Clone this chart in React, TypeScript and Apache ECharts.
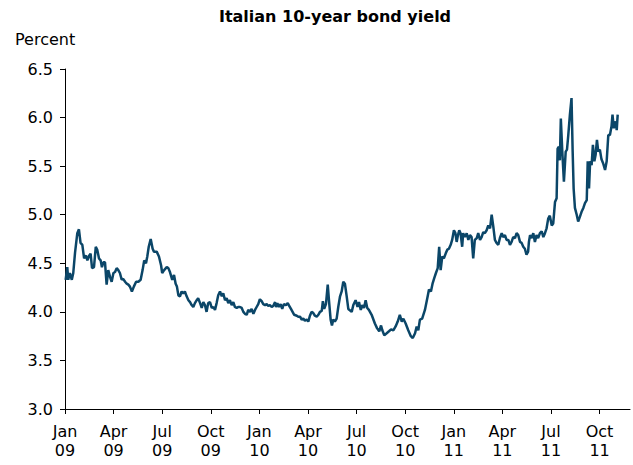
import React, { useEffect, useRef } from "react";
import * as echarts from "echarts";

// x value = months since 1 Jan 2009, y value = yield in percent
const yields2009: [number, number][] = [
  [0.04, 4.33], [0.14, 4.46], [0.2, 4.33], [0.3, 4.4], [0.42, 4.33], [0.51, 4.4], [0.62, 4.61], [0.76, 4.81],
  [0.86, 4.85], [0.96, 4.71], [1.07, 4.69], [1.18, 4.55], [1.3, 4.58], [1.38, 4.53], [1.5, 4.58], [1.58, 4.6],
  [1.67, 4.45], [1.79, 4.46], [1.9, 4.67], [1.99, 4.64], [2.1, 4.55], [2.2, 4.53], [2.28, 4.46], [2.37, 4.51],
  [2.47, 4.51], [2.57, 4.28], [2.67, 4.43], [2.78, 4.36], [2.88, 4.31], [2.99, 4.4], [3.09, 4.41], [3.19, 4.45],
  [3.29, 4.43], [3.39, 4.4], [3.5, 4.33], [3.59, 4.34], [3.71, 4.31], [3.81, 4.29], [3.91, 4.28], [4.01, 4.26],
  [4.13, 4.21], [4.25, 4.26], [4.39, 4.31], [4.53, 4.31], [4.67, 4.33], [4.79, 4.43], [4.89, 4.53], [5.0, 4.5],
  [5.08, 4.57], [5.17, 4.67], [5.29, 4.75], [5.41, 4.65], [5.49, 4.62], [5.66, 4.62],
  [5.8, 4.57], [5.93, 4.48], [6.0, 4.4], [6.12, 4.43], [6.28, 4.46], [6.38, 4.45], [6.48, 4.41], [6.62, 4.33],
  [6.73, 4.38], [6.83, 4.29], [6.91, 4.26], [7.0, 4.17], [7.1, 4.16], [7.2, 4.21], [7.3, 4.19], [7.4, 4.21],
  [7.51, 4.16], [7.62, 4.12], [7.72, 4.1], [7.82, 4.07], [7.92, 4.05], [8.02, 4.09], [8.13, 4.12], [8.22, 4.14],
  [8.34, 4.09], [8.44, 4.04], [8.54, 4.1], [8.64, 4.07], [8.74, 4.0], [8.84, 4.09], [8.95, 4.1], [9.06, 4.04],
  [9.16, 4.05], [9.26, 4.02], [9.36, 4.09], [9.46, 4.17], [9.57, 4.21], [9.68, 4.16], [9.77, 4.19], [9.88, 4.12],
  [9.98, 4.14], [10.08, 4.09], [10.18, 4.12], [10.29, 4.07], [10.39, 4.1], [10.49, 4.05], [10.6, 4.04], [10.69, 4.05],
  [10.8, 4.05], [10.91, 4.04], [11.01, 4.0], [11.11, 3.98], [11.22, 3.97], [11.31, 4.02], [11.42, 4.0], [11.52, 4.03],
  [11.63, 3.98], [11.73, 4.02], [11.83, 4.05], [11.93, 4.08],
];

const yields2010: [number, number][] = [
  [12.03, 4.13], [12.14, 4.11],
  [12.24, 4.08], [12.35, 4.07], [12.45, 4.08], [12.55, 4.06], [12.65, 4.07], [12.76, 4.05], [12.85, 4.06], [12.97, 4.1],
  [13.03, 4.05], [13.11, 4.09], [13.21, 4.05], [13.31, 4.08], [13.41, 4.03], [13.51, 4.08], [13.64, 4.07], [13.75, 4.09],
  [13.85, 4.06], [13.95, 4.03], [14.05, 4.0], [14.15, 3.97], [14.31, 3.96], [14.4, 3.95], [14.51, 3.95], [14.61, 3.92],
  [14.71, 3.93], [14.81, 3.91], [14.92, 3.92], [15.02, 3.9], [15.12, 3.96], [15.22, 4.0], [15.32, 3.99], [15.43, 3.96],
  [15.54, 3.95], [15.64, 3.97], [15.74, 4.0], [15.85, 4.01], [15.92, 4.11], [16.0, 4.03], [16.11, 4.08], [16.22, 4.28],
  [16.3, 4.11], [16.4, 3.92], [16.48, 3.86], [16.56, 3.92], [16.66, 3.9], [16.77, 3.93], [16.87, 4.05], [16.98, 4.16],
  [17.08, 4.21], [17.18, 4.31], [17.28, 4.29], [17.39, 4.16], [17.49, 4.03],
  [17.7, 4.0], [17.8, 4.07], [17.94, 4.12], [18.06, 4.05], [18.15, 4.1], [18.26, 4.02], [18.35, 4.07], [18.46, 4.04],
  [18.56, 4.12], [18.66, 4.04], [18.76, 4.02], [18.93, 3.97], [19.13, 3.88], [19.27, 3.83], [19.4, 3.8], [19.51, 3.86],
  [19.59, 3.81], [19.71, 3.76], [19.86, 3.78], [20.0, 3.8], [20.13, 3.82], [20.27, 3.81], [20.41, 3.85], [20.54, 3.9],
  [20.67, 3.97], [20.79, 3.9], [20.89, 3.93], [21.03, 3.88], [21.19, 3.81], [21.35, 3.75], [21.47, 3.73], [21.61, 3.78],
  [21.71, 3.85], [21.81, 3.81], [21.91, 3.92], [22.05, 3.93], [22.22, 4.02], [22.39, 4.16], [22.47, 4.23], [22.59, 4.21],
  [22.69, 4.29], [22.8, 4.35], [22.9, 4.4], [23.01, 4.45], [23.1, 4.67], [23.19, 4.43], [23.29, 4.57], [23.39, 4.55],
  [23.5, 4.6], [23.6, 4.64], [23.7, 4.65], [23.81, 4.69], [23.9, 4.74],
];

const yields2011: [number, number][] = [
  [24.01, 4.84], [24.1, 4.81], [24.18, 4.72], [24.26, 4.79], [24.34, 4.84],
  [24.42, 4.81], [24.52, 4.67], [24.58, 4.81], [24.69, 4.77], [24.8, 4.81], [24.9, 4.74], [25.0, 4.79], [25.1, 4.77],
  [25.2, 4.55], [25.3, 4.74], [25.42, 4.76], [25.51, 4.81], [25.62, 4.74], [25.72, 4.77], [25.82, 4.82], [25.92, 4.81],
  [26.03, 4.84], [26.13, 4.89], [26.24, 4.86], [26.34, 5.0], [26.44, 4.88], [26.54, 4.74], [26.64, 4.71], [26.75, 4.69],
  [26.85, 4.76], [26.96, 4.81], [27.05, 4.77], [27.16, 4.79], [27.26, 4.74], [27.37, 4.74], [27.47, 4.69], [27.57, 4.72],
  [27.67, 4.77], [27.78, 4.76], [27.88, 4.81], [27.98, 4.79], [28.09, 4.72], [28.19, 4.71], [28.29, 4.67], [28.39, 4.65],
  [28.49, 4.59], [28.59, 4.62], [28.64, 4.72], [28.71, 4.79], [28.81, 4.76], [28.91, 4.81], [29.01, 4.72], [29.11, 4.79],
  [29.21, 4.76], [29.32, 4.81], [29.43, 4.83], [29.53, 4.77], [29.63, 4.81], [29.73, 4.86], [29.83, 4.96], [29.93, 4.99],
  [30.05, 4.89], [30.14, 4.91], [30.25, 5.13], [30.35, 5.17], [30.41, 5.68], [30.49, 5.7], [30.55, 5.56], [30.61, 5.99],
  [30.7, 5.65], [30.8, 5.34], [30.91, 5.65], [30.99, 5.67], [31.07, 5.82], [31.17, 6.03], [31.27, 6.2], [31.34, 5.65],
  [31.4, 5.27], [31.48, 5.07], [31.59, 5.0], [31.68, 4.93], [31.79, 4.98], [31.89, 5.03], [32.0, 5.07], [32.1, 5.12],
  [32.21, 5.15], [32.27, 5.55], [32.35, 5.27], [32.42, 5.55], [32.51, 5.51], [32.59, 5.72], [32.68, 5.55], [32.76, 5.62],
  [32.84, 5.77], [32.92, 5.65], [33.02, 5.67], [33.12, 5.57], [33.22, 5.53], [33.34, 5.46], [33.44, 5.55], [33.54, 5.82],
  [33.64, 5.82], [33.74, 5.91], [33.8, 6.03], [33.88, 5.89], [34.0, 5.96], [34.06, 5.87], [34.12, 6.03],
];

const tickMonths = [0, 3, 6, 9, 12, 15, 18, 21, 24, 27, 30, 33];
const tickLabels = [
  "Jan\n09", "Apr\n09", "Jul\n09", "Oct\n09",
  "Jan\n10", "Apr\n10", "Jul\n10", "Oct\n10",
  "Jan\n11", "Apr\n11", "Jul\n11", "Oct\n11",
];
const axisEndMonth = 34.88;
const yMin = 3.0;
const yMax = 6.5;
const yStep = 0.5;

const chartTitle = "Italian 10-year bond yield";
const unitLabel = "Percent";

export default function App() {
  const ref = useRef<HTMLDivElement>(null);

  useEffect(() => {
    if (!ref.current) return;
    const chart = echarts.init(ref.current, undefined, { renderer: "svg" });
    const font = "DejaVu Sans";
    const data = [...yields2009, ...yields2010, ...yields2011];
    chart.setOption({
      animation: false,
      backgroundColor: "#ffffff",
      grid: { left: 65, right: 3, top: 69, bottom: 56 },
      graphic: [
        {
          type: "text",
          x: 335,
          y: 8,
          style: {
            text: chartTitle,
            fontFamily: font,
            fontWeight: "bold",
            fontSize: 16,
            fill: "#000",
            textAlign: "center",
          },
        },
        {
          type: "text",
          x: 15,
          y: 31,
          style: { text: unitLabel, fontFamily: font, fontSize: 16, fill: "#000" },
        },
      ],
      xAxis: {
        type: "value",
        min: 0,
        max: axisEndMonth,
        splitLine: { show: false },
        axisLine: { lineStyle: { color: "#000", width: 1 } },
        axisTick: { customValues: tickMonths, length: 5, lineStyle: { color: "#000" } },
        axisLabel: {
          customValues: tickMonths,
          formatter: (v: number) => tickLabels[Math.round(v / 3)] ?? "",
          fontFamily: font,
          fontSize: 16,
          color: "#000",
          lineHeight: 19,
          margin: 13,
        },
      },
      yAxis: {
        type: "value",
        min: yMin,
        max: yMax,
        interval: yStep,
        splitLine: { show: false },
        axisLine: { show: true, lineStyle: { color: "#000", width: 1 } },
        axisTick: { show: true, length: 5, lineStyle: { color: "#000" } },
        axisLabel: {
          formatter: (v: number) => v.toFixed(1),
          fontFamily: font,
          fontSize: 16,
          color: "#000",
          margin: 12,
        },
      },
      series: [
        {
          type: "line",
          data,
          showSymbol: false,
          symbol: "none",
          lineStyle: { color: "#0b4668", width: 2.5 },
          emphasis: { disabled: true },
        },
      ],
    });
    return () => chart.dispose();
  }, []);

  return (
    <div
      ref={ref}
      style={{ position: "fixed", left: 0, top: 0, width: 633, height: 465, background: "#fff" }}
    />
  );
}
